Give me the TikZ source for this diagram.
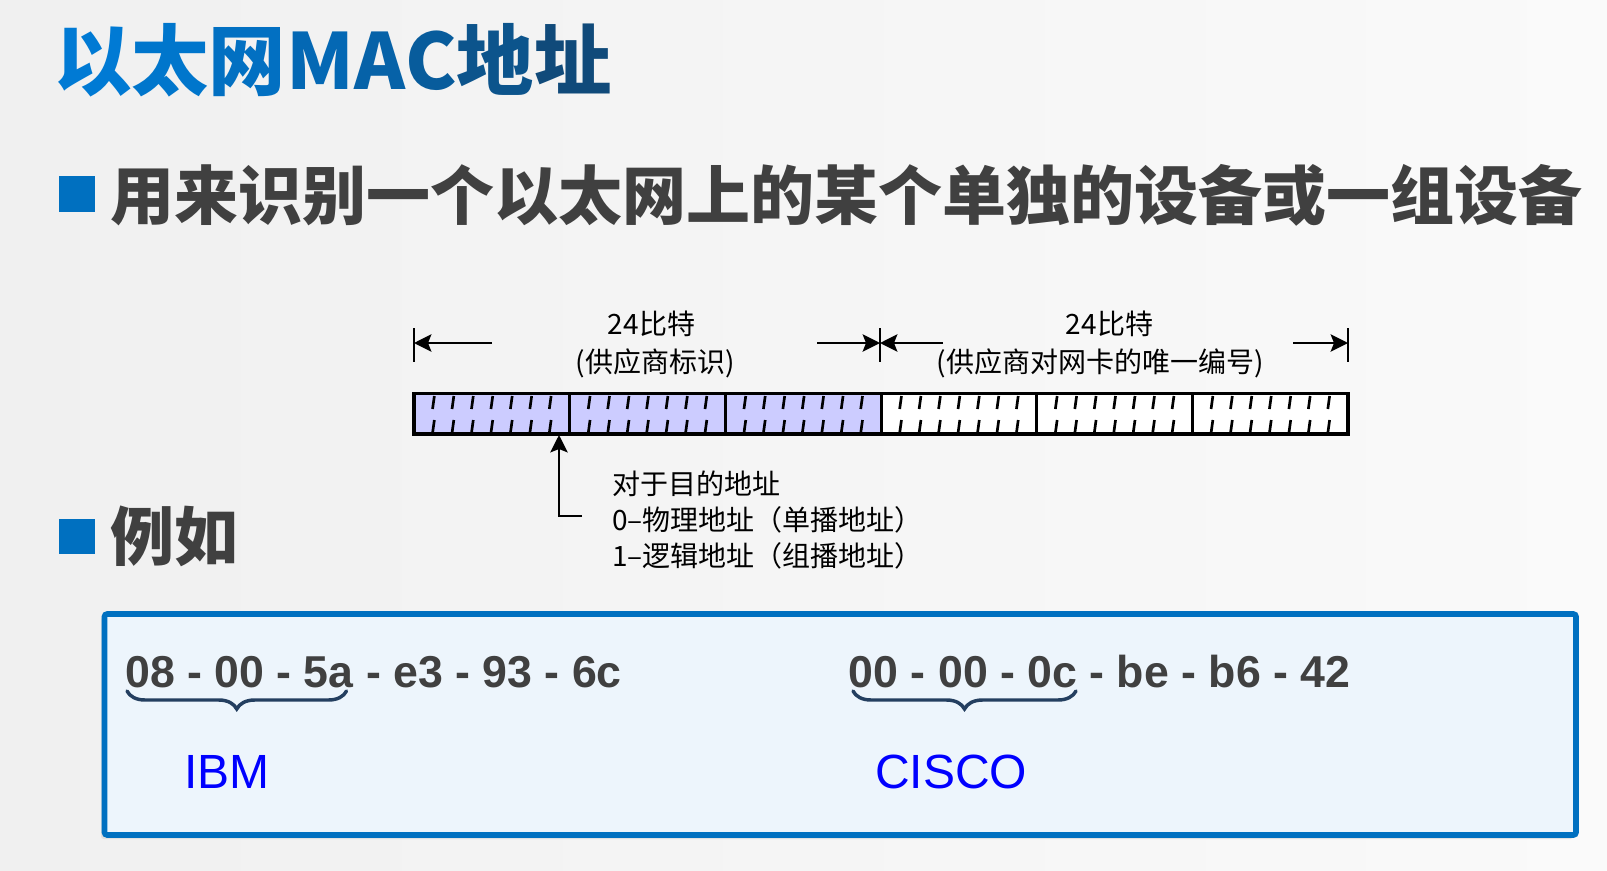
\documentclass[tikz,border=0pt]{standalone}
\usepackage{fontspec}
\setmainfont{Liberation Sans}
\newfontfamily\cjk{Noto Sans CJK SC}
\usetikzlibrary{arrows.meta,decorations.pathreplacing}
\definecolor{bgl}{RGB}{240,240,240}
\definecolor{bgr}{RGB}{250,250,250}
\definecolor{bullet}{RGB}{0,112,192}
\definecolor{darktext}{RGB}{64,64,64}
\definecolor{lav}{RGB}{204,204,255}
\definecolor{boxfill}{RGB}{237,245,252}
\definecolor{boxline}{RGB}{0,112,192}
\definecolor{bracec}{RGB}{36,63,96}
\definecolor{ta}{RGB}{0,122,212}
\definecolor{tb}{RGB}{0,118,204}
\definecolor{tc}{RGB}{2,112,194}
\definecolor{td}{RGB}{4,104,180}
\definecolor{te}{RGB}{6,98,168}
\definecolor{tf}{RGB}{8,92,156}
\definecolor{tg}{RGB}{12,84,140}
\definecolor{th}{RGB}{16,74,122}
\tikzset{
  title/.style={anchor=west,inner sep=0pt,font=\cjk\bfseries\fontsize{58pt}{62pt}\selectfont},
  bul/.style={anchor=west,inner sep=0pt,text=darktext,font=\cjk\bfseries\fontsize{48pt}{52pt}\selectfont},
  lab/.style={inner sep=0pt,text=black,font=\cjk\fontsize{21pt}{24pt}\selectfont},
  note/.style={anchor=west,inner sep=0pt,text=black,font=\cjk\fontsize{21pt}{24pt}\selectfont},
  mac/.style={anchor=west,inner sep=0pt,text=darktext,font=\bfseries\fontsize{33.5pt}{36pt}\selectfont},
  vendor/.style={anchor=west,inner sep=0pt,text=blue,font=\fontsize{36pt}{40pt}\selectfont},
  dimline/.style={line width=2pt,black},
  dimarrow/.style={line width=1.9pt,black,-{Stealth[length=13pt,width=13pt,inset=2.5pt]}},
  tick/.style={line width=2pt,black},
  bitbox/.style={line width=2.3pt,black},
  mybrace/.style={decorate,decoration={brace,mirror,amplitude=13.5pt},line width=2.6pt,line cap=round,bracec},
}
\begin{document}
\begin{tikzpicture}[x=0.75pt,y=-0.75pt]
\useasboundingbox (0,0) rectangle (1607,871);
\shade[left color=bgl,right color=bgr] (0,0) rectangle (1607,871);

% title
\node[title] (title) at (54,60) {\color{ta}以\color{tb}太\color{tc}网\color{td}M\color{te}A\color{tf}C\color{tg}地\color{th}址};

% bullets
\fill[bullet] (59,176) rectangle (95,212);
\node[bul] (b1) at (110,195) {用来识别一个以太网上的某个单独的设备或一组设备};
\fill[bullet] (59,519) rectangle (95,554);
\node[bul] (b2) at (110,536) {例如};

% dimension labels
\node[lab] (l1a) at (651.5,324) {24比特};
\node[lab] (l1b) at (655,363) {(供应商标识)};
\node[lab] (l2a) at (1109.5,324) {24比特};
\node[lab] (l2b) at (1100,363) {(供应商对网卡的唯一编号)};

% dimension bars
\coordinate (barL) at (414,343);
\coordinate (barM) at (880,343);
\coordinate (barR) at (1348,343);
\draw[dimline] (414,328) -- (414,362);
\draw[dimline] (880,328) -- (880,362);
\draw[dimline] (1348,328) -- (1348,362);
\coordinate (sL) at (492,343);
\coordinate (sM1) at (817,343);
\coordinate (sM2) at (943,343);
\coordinate (sR) at (1293,343);
\draw[dimarrow] (sL) -- (barL);
\draw[dimarrow] (sM1) -- (barM);
\draw[dimarrow] (sM2) -- (barM);
\draw[dimarrow] (sR) -- (barR);

% bit fields
\fill[lav] (414,393.5) rectangle (881,434);
\fill[white] (881,393.5) rectangle (1348,434);
\foreach \k in {0,...,5} {
  \foreach \j in {1,...,7} {
    \draw[tick] ({414+\k*155.7+\j*19.46+0.9},396) -- ({414+\k*155.7+\j*19.46-0.9},409);
    \draw[tick] ({414+\k*155.7+\j*19.46+0.9},420) -- ({414+\k*155.7+\j*19.46-0.9},433);
  }
}
\foreach \k in {1,...,5} {
  \draw[bitbox] ({414+\k*155.7},393.5) -- ({414+\k*155.7},434);
}
\draw[bitbox] (414,393.5) rectangle (1348,434);

% I/G bit arrow
\coordinate (igbit) at (559,435);
\coordinate (igcorner) at (559,516);
\coordinate (igend) at (582,516);
\draw[dimarrow] (igend) -- (igcorner) -- (igbit);
\node[note] (n1) at (612,484) {对于目的地址};
\node[note] (n2) at (612,520) {0–物理地址（单播地址）};
\node[note] (n3) at (612,556) {1–逻辑地址（组播地址）};

% example box
\fill[black!12,rounded corners=2pt] (101,617) rectangle (1573,839);
\draw[line width=4.2pt,boxline,fill=boxfill,rounded corners=2pt] (104.5,614) rectangle (1576,835);

\node[mac] (mac1) at (125,672) {08 - 00 - 5a - e3 - 93 - 6c};
\node[mac] (mac2) at (848.6,672) {00 - 00 - 0c - be - b6 - 42};
\coordinate (br1s) at (127,691);
\coordinate (br1e) at (346.5,691);
\coordinate (br2s) at (853,691);
\coordinate (br2e) at (1076,691);
\draw[mybrace] (br1s) -- (br1e);
\draw[mybrace] (br2s) -- (br2e);
\node[vendor] (ibm) at (184,772) {IBM};
\node[vendor] (cisco) at (875,772) {CISCO};
\end{tikzpicture}
\end{document}
